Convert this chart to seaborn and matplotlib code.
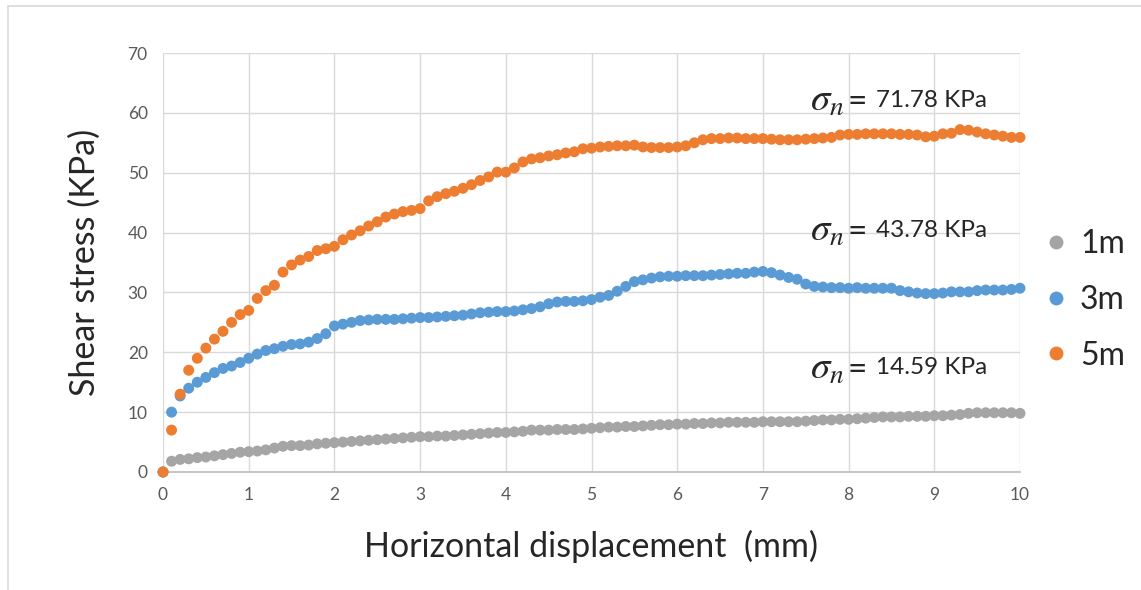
import numpy as np
import pandas as pd
import matplotlib
matplotlib.use("Agg")
import matplotlib.pyplot as plt
from matplotlib.lines import Line2D
from matplotlib.patches import Rectangle
import seaborn as sns

# ---- data ----
displacement = np.round(np.arange(0, 101) * 0.1, 1)  # sampling grid (mm)

stress_1m = [0, 1.8, 2.1, 2.2, 2.4, 2.5, 2.7, 2.9, 3.1, 3.3,
             3.4, 3.5, 3.7, 4.0, 4.3, 4.4, 4.4, 4.5, 4.7, 4.8,
             4.9, 5.0, 5.1, 5.2, 5.3, 5.4, 5.5, 5.6, 5.7, 5.8,
             5.9, 5.9, 6.0, 6.0, 6.1, 6.2, 6.3, 6.4, 6.5, 6.6,
             6.6, 6.7, 6.8, 7.0, 7.0, 7.0, 7.1, 7.1, 7.1, 7.2,
             7.3, 7.4, 7.5, 7.5, 7.6, 7.6, 7.7, 7.8, 7.9, 7.9,
             8.0, 8.0, 8.1, 8.1, 8.2, 8.2, 8.3, 8.3, 8.3, 8.3,
             8.4, 8.4, 8.4, 8.4, 8.4, 8.5, 8.6, 8.7, 8.7, 8.8,
             8.8, 8.9, 9.0, 9.1, 9.2, 9.2, 9.2, 9.3, 9.3, 9.3,
             9.4, 9.4, 9.5, 9.6, 9.8, 9.9, 9.9, 9.9, 9.9, 9.9,
             9.8]

stress_3m = [0, 10, 12.7, 14, 15, 15.8, 16.6, 17.3, 17.7, 18.3,
             19, 19.7, 20.3, 20.6, 21, 21.3, 21.4, 21.7, 22.3, 23.1,
             24.4, 24.7, 25, 25.3, 25.4, 25.5, 25.5, 25.5, 25.6, 25.7,
             25.8, 25.8, 25.9, 26, 26.1, 26.2, 26.4, 26.6, 26.7, 26.8,
             26.8, 26.9, 27.1, 27.3, 27.6, 28.1, 28.4, 28.5, 28.5, 28.6,
             28.8, 29.2, 29.5, 30.2, 31, 31.8, 32.1, 32.4, 32.6, 32.7,
             32.7, 32.8, 32.8, 32.8, 32.9, 33, 33.1, 33.2, 33.2, 33.4,
             33.5, 33.3, 32.9, 32.5, 32.2, 31.4, 31, 30.9, 30.8, 30.8,
             30.7, 30.8, 30.7, 30.7, 30.7, 30.7, 30.3, 30.1, 29.9, 29.8,
             29.8, 29.9, 30.1, 30.1, 30.1, 30.3, 30.4, 30.4, 30.4, 30.5,
             30.7]

stress_5m = [0, 7, 13, 17, 19, 20.7, 22.2, 23.5, 25, 26.3,
             27, 29, 30.3, 31.2, 33.4, 34.6, 35.4, 36, 37, 37.3,
             37.7, 38.8, 39.6, 40.3, 41.1, 41.8, 42.6, 43.1, 43.5, 43.7,
             44, 45.3, 46, 46.5, 46.9, 47.4, 48, 48.7, 49.3, 50.1,
             50.1, 50.8, 51.8, 52.3, 52.5, 52.8, 53, 53.3, 53.5, 54,
             54.1, 54.3, 54.4, 54.5, 54.5, 54.6, 54.3, 54.2, 54.2, 54.2,
             54.3, 54.5, 55, 55.5, 55.7, 55.7, 55.8, 55.8, 55.7, 55.7,
             55.7, 55.6, 55.5, 55.5, 55.5, 55.6, 55.7, 55.8, 55.9, 56.3,
             56.4, 56.4, 56.5, 56.5, 56.5, 56.5, 56.4, 56.4, 56.3, 56,
             56.1, 56.5, 56.6, 57.2, 57.1, 56.8, 56.5, 56.3, 56.1, 55.9,
             55.9]

series_names = ["1m", "3m", "5m"]
series_colors = ["#A5A5A5", "#5B9BD5", "#ED7D31"]
annotations = ["14.59 KPa", "43.78 KPa", "71.78 KPa"]
annotation_y = [17.4, 40.4, 62.1]

df = pd.concat([
    pd.DataFrame({"x": displacement, "y": s, "series": n})
    for s, n in zip([stress_1m, stress_3m, stress_5m], series_names)
], ignore_index=True)

# ---- style ----
sns.set_theme(style="white")
plt.rcParams["font.family"] = ["Lato", "DejaVu Sans"]
plt.rcParams["mathtext.fontset"] = "stix"

fig = plt.figure(figsize=(11.41, 5.90), dpi=100)
fig.patch.set_facecolor("white")
ax = fig.add_axes([163 / 1141, 1 - 472 / 590, (1020 - 163) / 1141, (472 - 53) / 590])

# outer frame (top and left edges visible)
fig.patches.append(Rectangle((8 / 1141, -0.05), 1.2, 1 - 6 / 590 + 0.05,
                             transform=fig.transFigure, fill=False,
                             edgecolor="#d9d9d9", linewidth=1.2))

sns.scatterplot(data=df, x="x", y="y", hue="series", hue_order=series_names,
                palette=series_colors, s=62, edgecolor="none", linewidth=0,
                legend=False, ax=ax, zorder=3, clip_on=False)

ax.set_xlim(0, 10)
ax.set_ylim(0, 70)
ax.set_xticks(range(0, 11))
ax.set_yticks(range(0, 71, 10))
ax.grid(True, color="#d9d9d9", linewidth=1)
ax.set_axisbelow(True)
for side in ["top", "right", "left"]:
    ax.spines[side].set_visible(False)
ax.spines["bottom"].set_color("#bfbfbf")
ax.tick_params(axis="both", length=0, labelsize=12.5, colors="#595959", pad=11)

ax.set_xlabel("Horizontal displacement  (mm)", fontsize=24.5, color="#262626", labelpad=19)
ax.set_ylabel("Shear stress (KPa)", fontsize=24.5, color="#262626", labelpad=19)

# annotations: sigma_n (larger math), "=" sign, then the value text
for txt, yv in zip(annotations, annotation_y):
    ax.text(7.55, yv, r"$\sigma_n$", fontsize=28, color="#262626",
            va="center", ha="left")
    ax.text(7.99, yv - 0.3, "=", fontsize=24, color="#262626",
            va="center", ha="left")
    ax.text(8.32, yv, txt, fontsize=17.5, color="#262626",
            va="center", ha="left")

# legend
handles = [Line2D([0], [0], marker="o", linestyle="none", markersize=10,
                  markerfacecolor=c, markeredgecolor="none") for c in series_colors]
leg = fig.legend(handles, series_names, loc="center left",
                 bbox_to_anchor=(1040 / 1141, 1 - 300 / 590), frameon=False,
                 fontsize=23, labelspacing=0.8, handletextpad=0.25,
                 handlelength=1.0, borderpad=0, borderaxespad=0)
for t in leg.get_texts():
    t.set_color("#262626")

fig.savefig("out.png", dpi=100, facecolor="white")
